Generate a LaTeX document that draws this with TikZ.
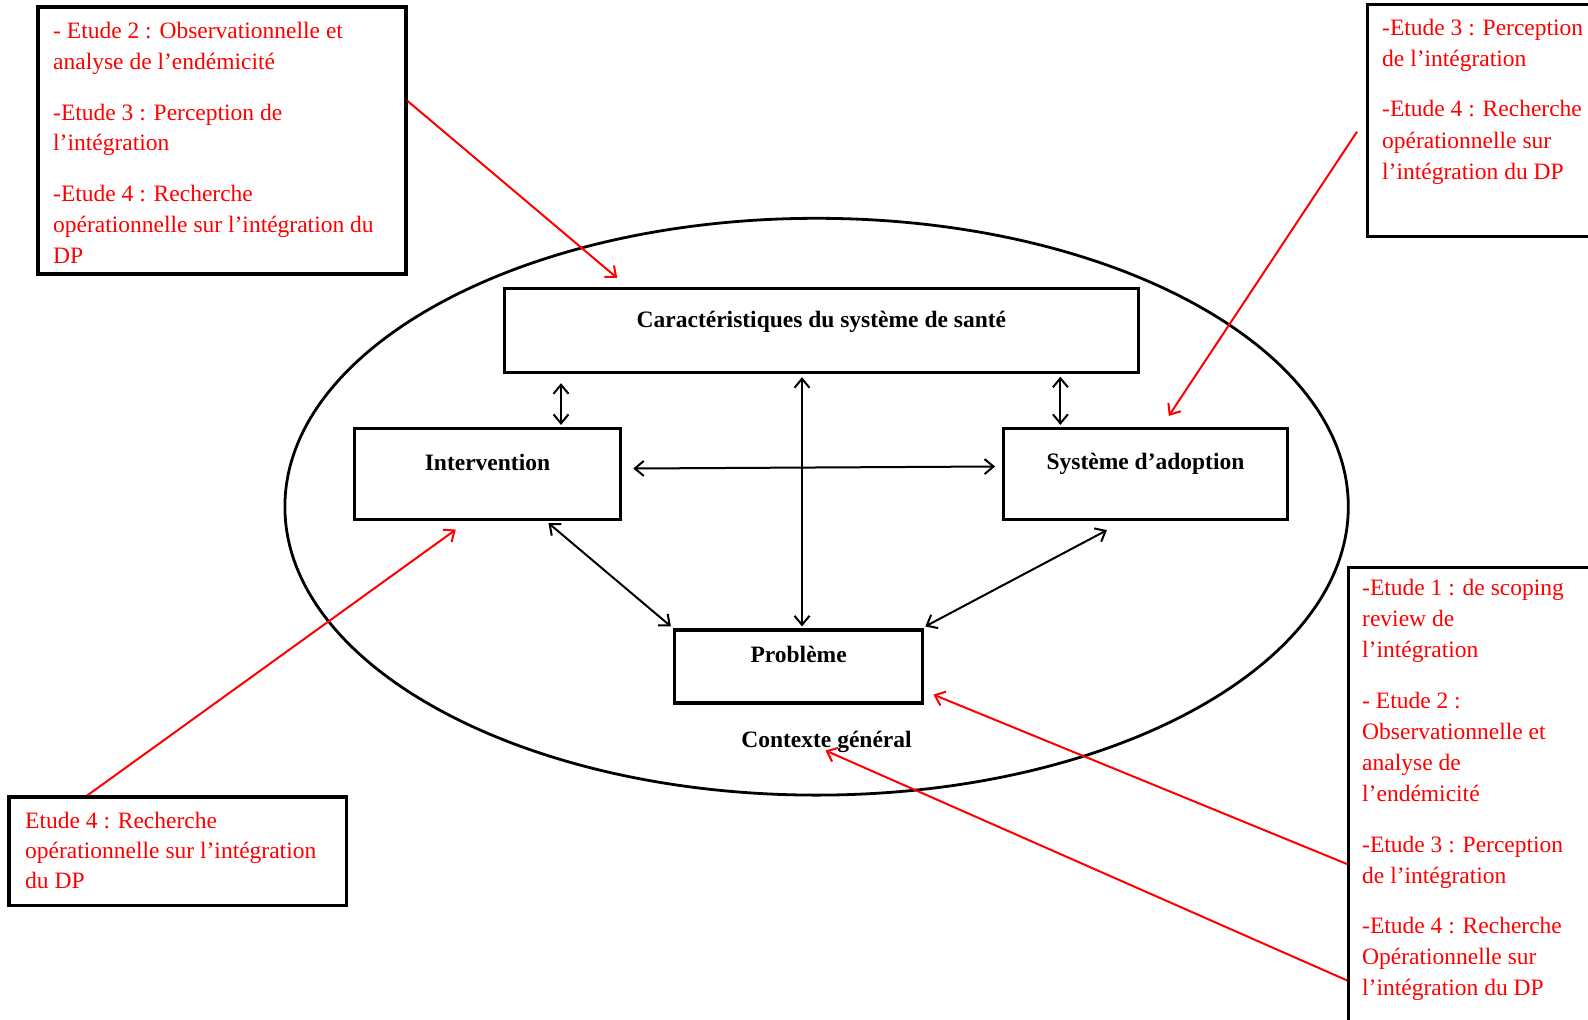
\documentclass[tikz,border=0pt]{standalone}
\usepackage{fontspec}
\setmainfont{Liberation Serif}
\usetikzlibrary{arrows.meta,calc,shapes.geometric}
\tikzset{
  box/.style={draw=black, line width=3.2pt, rectangle, inner sep=0pt, fill=none},
  lbl/.style={inner sep=0pt, font=\fontsize{23.5}{28}\selectfont\bfseries, text=black},
  redtxt/.style={inner sep=0pt, anchor=north west, align=left, text=red, font=\fontsize{23.5}{31.2}\selectfont},
  biarrow/.style={draw=black, line width=2pt, {Straight Barb[length=9pt,width=15pt]}-{Straight Barb[length=9pt,width=15pt]}},
  redarrow/.style={draw=red, line width=2pt, -{Straight Barb[length=9pt,width=15pt]}}
}
\begin{document}
\begin{tikzpicture}[x=1pt,y=-1pt]
\useasboundingbox[fill=white] (0,0) rectangle (1588,1020);
% context ellipse
\node[draw=black, line width=2.8pt, ellipse, inner sep=0pt, minimum width=1063.4pt, minimum height=576.8pt] (ell) at (816.6,506.7) {};
% main boxes
\node[box, minimum width=634pt, minimum height=84pt] (car) at (821.4,330.6) {};
\node[box, minimum width=266.3pt, minimum height=91pt] (int) at (487.5,474) {};
\node[box, minimum width=283.6pt, minimum height=91pt] (sys) at (1145.5,474) {};
\node[box, minimum width=248.2pt, minimum height=73pt] (prob) at (798.6,666.5) {};
\node[lbl] (carl) at ($(car.center)+(0,-8.6)$) {Caractéristiques du système de santé};
\node[lbl] (intl) at ($(int.center)+(0,-11.5)$) {Intervention};
\node[lbl] (sysl) at ($(sys.center)+(0,-10.5)$) {Système d’adoption};
\node[lbl] (probl) at ($(prob.center)+(0,-12.5)$) {Problème};
\node[lbl] (ctx) at (826.5,742) {Contexte général};
% black connectors
\draw[biarrow] ($(car.south -| 561,0)+(0,9)$) -- ($(int.north -| 561,0)+(0,-2)$);
\draw[biarrow] ($(car.south -| 1060.4,0)+(0,2.5)$) -- ($(sys.north -| 1060.4,0)+(0,-2)$);
\draw[biarrow] ($(car.south -| 802,0)+(0,3)$) -- ($(prob.north -| 802,0)+(0,-2)$);
\draw[biarrow] ($(int.east)+(11,-5.5)$) -- ($(sys.west)+(-7,-7.5)$);
\draw[biarrow] ($(int.south)+(61,2)$) -- ($(prob.north west)+(-2,-2)$);
\draw[biarrow] ($(sys.south)+(-38.5,9)$) -- ($(prob.north east)+(1,-2)$);
% red boxes
\node[box, minimum width=368pt, minimum height=267pt] (tl) at (222,140.5) {};
\node[box, anchor=north west, minimum width=270pt, minimum height=232pt] (tr) at (1366,3) {};
\node[box, anchor=north west, minimum width=270pt, minimum height=480pt] (br) at (1347,566) {};
\node[box, minimum width=337.4pt, minimum height=108.5pt] (bl) at (177.7,851.2) {};
% red texts
\begin{scope}
\clip (39.6,8.6) rectangle (404.4,264);
\node[redtxt, font=\fontsize{23.5}{30.9}\selectfont] (tlt) at (53,22) {- Etude 2 : Observationnelle et\\analyse de l’endémicité\\[19.7pt]-Etude 3 : Perception de\\l’intégration\\[19.7pt]-Etude 4 : Recherche\\opérationnelle sur l’intégration du\\DP};
\end{scope}
\node[redtxt] (trt) at (1382,19) {-Etude 3 : Perception\\de l’intégration\\[19pt]-Etude 4 : Recherche\\opérationnelle sur\\l’intégration du DP};
\node[redtxt] (brt) at (1362,579) {-Etude 1 : de scoping\\review de\\l’intégration\\[19.2pt]- Etude 2 :\\Observationnelle et\\analyse de\\l’endémicité\\[19.2pt]-Etude 3 : Perception\\de l’intégration\\[18.5pt]-Etude 4 : Recherche\\Opérationnelle sur\\l’intégration du DP};
\node[redtxt, font=\fontsize{23.5}{30}\selectfont] (blt) at (25,812) {Etude 4 : Recherche\\opérationnelle sur l’intégration\\du DP};
% red connectors
\coordinate (s1) at ($(tl.east)+(0,-39.5)$);
\coordinate (s2) at ($(tr.north west)+(-9,128.7)$);
\coordinate (s3) at ($(bl.north west)+(80,0)$);
\coordinate (s4) at ($(br.north west)+(0,298)$);
\coordinate (s5) at ($(br.north west)+(0,414.4)$);
\draw[redarrow] (s1) -- ($(car.north west)+(114.4,-9)$);
\draw[redarrow] (s2) -- ($(sys.north)+(23.3,-11)$);
\draw[redarrow] (s3) -- ($(int.south)+(-31.7,8.5)$);
\draw[redarrow] (s4) -- ($(prob.south east)+(9.1,-10)$);
\draw[redarrow] (s5) -- ($(ctx.center)+(-1,8.5)$);
\end{tikzpicture}
\end{document}
